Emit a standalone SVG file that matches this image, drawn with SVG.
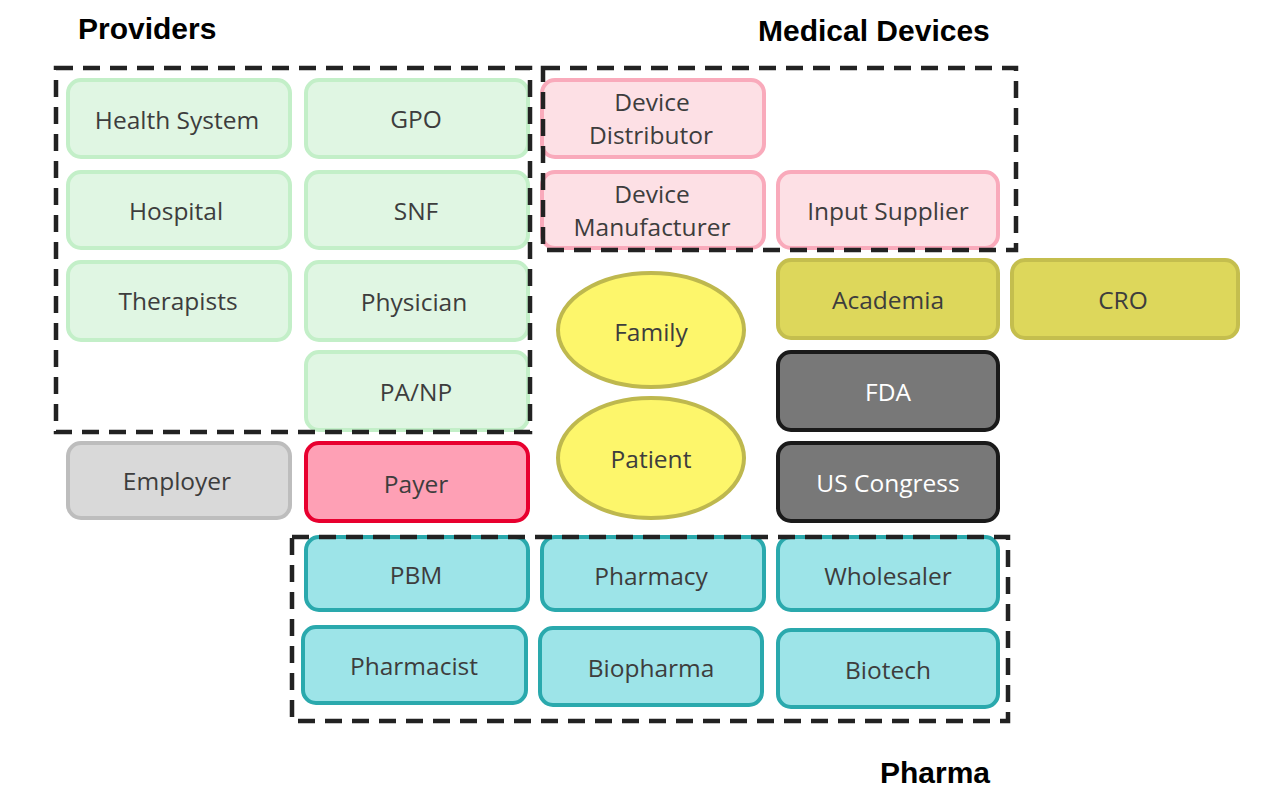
<svg xmlns="http://www.w3.org/2000/svg" width="1286" height="804" viewBox="0 0 1286 804">
<style>
text{font-family:"Open Sans","Liberation Sans",sans-serif;font-size:24.5px;fill:#3d3d3d;text-anchor:middle;dominant-baseline:central}
.t{font-family:"Liberation Sans",Arial,sans-serif;font-weight:bold;font-size:30px;fill:#000;text-anchor:start;dominant-baseline:auto}
.grp{fill:none;stroke:#222;stroke-width:4.5;stroke-dasharray:17 10}
.g rect{fill:#e0f6e3;stroke:#c3efc8;stroke-width:4}
.p rect{fill:#fde0e5;stroke:#f9aabb;stroke-width:4}
.o rect{fill:#ddd75b;stroke:#c4be4e;stroke-width:4}
.y ellipse{fill:#fdf66b;stroke:#beb84e;stroke-width:4}
.k rect{fill:#787878;stroke:#1a1a1a;stroke-width:4}
.k text{fill:#fff}
.e rect{fill:#d9d9d9;stroke:#bdbdbd;stroke-width:4}
.r rect{fill:#fea0b5;stroke:#e8002f;stroke-width:4}
.c rect{fill:#9de4e8;stroke:#2aa9ad;stroke-width:4}
</style>
<rect width="1286" height="804" fill="#fff"/>
<g id="titles">
<text class="t" x="78" y="39">Providers</text>
<text class="t" x="758" y="41">Medical Devices</text>
<text class="t" x="880" y="783">Pharma</text>
</g>
<g id="node-health-system" class="g"><rect x="68" y="80" width="222" height="77" rx="13"/><text x="177" y="119">Health System</text></g>
<g id="node-gpo" class="g"><rect x="306" y="80" width="222" height="77" rx="13"/><text x="416" y="118">GPO</text></g>
<g id="node-hospital" class="g"><rect x="68" y="172" width="222" height="76" rx="13"/><text x="176" y="210">Hospital</text></g>
<g id="node-snf" class="g"><rect x="306" y="172" width="222" height="76" rx="13"/><text x="416" y="210">SNF</text></g>
<g id="node-therapists" class="g"><rect x="68" y="262" width="222" height="78" rx="13"/><text x="178" y="300">Therapists</text></g>
<g id="node-physician" class="g"><rect x="306" y="262" width="222" height="78" rx="13"/><text x="414" y="301">Physician</text></g>
<g id="node-panp" class="g"><rect x="306" y="352" width="222" height="78" rx="13"/><text x="416" y="391">PA/NP</text></g>
<g id="node-employer" class="e"><rect x="68" y="443" width="222" height="75" rx="13"/><text x="177" y="480">Employer</text></g>
<g id="node-payer" class="r"><rect x="306" y="443" width="222" height="78" rx="13"/><text x="416" y="483">Payer</text></g>
<g id="node-device-distributor" class="p"><rect x="542" y="80" width="222" height="77" rx="13"/><text x="652" y="101">Device</text><text x="651" y="134">Distributor</text></g>
<g id="node-device-manufacturer" class="p"><rect x="542" y="172" width="222" height="76" rx="13"/><text x="652" y="193">Device</text><text x="652" y="226">Manufacturer</text></g>
<g id="node-input-supplier" class="p"><rect x="778" y="172" width="220" height="76" rx="13"/><text x="888" y="210">Input Supplier</text></g>
<g id="node-family" class="y"><ellipse cx="651" cy="330" rx="93" ry="57"/><text x="651" y="331">Family</text></g>
<g id="node-patient" class="y"><ellipse cx="651" cy="458" rx="93" ry="60"/><text x="651" y="458">Patient</text></g>
<g id="node-academia" class="o"><rect x="778" y="260" width="220" height="78" rx="13"/><text x="888" y="299">Academia</text></g>
<g id="node-cro" class="o"><rect x="1012" y="260" width="226" height="78" rx="13"/><text x="1123" y="299">CRO</text></g>
<g id="node-fda" class="k"><rect x="778" y="352" width="220" height="78" rx="13"/><text x="888" y="391">FDA</text></g>
<g id="node-us-congress" class="k"><rect x="778" y="443" width="220" height="78" rx="13"/><text x="888" y="482">US Congress</text></g>
<g id="node-pbm" class="c"><rect x="306" y="537" width="222" height="73" rx="13"/><text x="416" y="574">PBM</text></g>
<g id="node-pharmacy" class="c"><rect x="542" y="537" width="222" height="73" rx="13"/><text x="651" y="575">Pharmacy</text></g>
<g id="node-wholesaler" class="c"><rect x="778" y="537" width="220" height="73" rx="13"/><text x="888" y="575">Wholesaler</text></g>
<g id="node-pharmacist" class="c"><rect x="303" y="627" width="223" height="76" rx="13"/><text x="414" y="665">Pharmacist</text></g>
<g id="node-biopharma" class="c"><rect x="540" y="628" width="222" height="77" rx="13"/><text x="651" y="667">Biopharma</text></g>
<g id="node-biotech" class="c"><rect x="778" y="630" width="220" height="77" rx="13"/><text x="888" y="669">Biotech</text></g>
<g id="groups">
<rect class="grp" x="56" y="68" width="474" height="364"/>
<rect class="grp" x="543" y="68" width="473" height="182"/>
<rect class="grp" x="292" y="537" width="716" height="184"/>
</g>
<g id="connectors"></g>
</svg>
